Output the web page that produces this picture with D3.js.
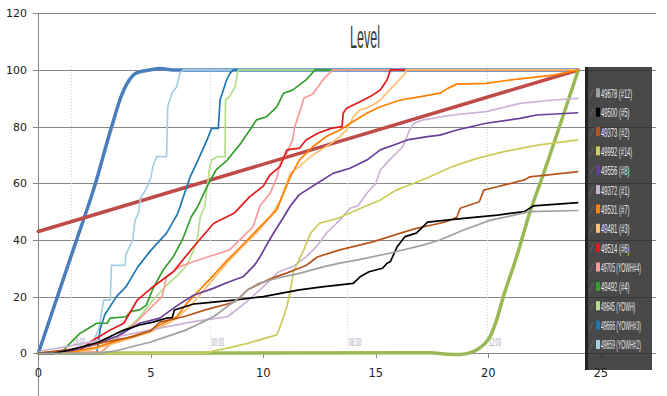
<!DOCTYPE html>
<html><head><meta charset="utf-8">
<script src="https://cdn.jsdelivr.net/npm/d3@7"></script>
<style>body{margin:0;background:#fff}svg{display:block}</style>
</head><body>
<svg id="c" width="667" height="396"></svg>
<script>
// ---------- data ----------
const title = "Level";
const xTicks = [0, 5, 10, 15, 20, 25];
const yTicks = [0, 20, 40, 60, 80, 100, 120];
const timeMarkX = [1.47, 7.63, 13.73, 19.95];
const timeMarkLabels = ["18:00", "00:00", "06:00", "12:00"];

const legendNames = ["49678 (#12)", "49500 (#5)", "49373 (#2)", "49992 (#14)", "49556 (#8)", "49372 (#1)", "49531 (#7)", "49481 (#3)", "49514 (#6)", "49705 (YOWH#4)", "49492 (#4)", "49645 (YOWH)", "49666 (YOWH#3)", "49659 (YOWH#2)"];
const legendColors = ["#a0a0a0", "#000000", "#b5561f", "#c9cc5a", "#6a3d9a", "#cab2d6", "#ff7f00", "#fdbf6f", "#e31a1c", "#fb9a99", "#33a02c", "#b2df8a", "#1f78b4", "#a6cee3"];

const s49678 = [[0,0],[2.7,0],[3.5,1],[4.2,2.4],[5,4],[5.7,5.9],[6.5,8],[7.2,10.6],[7.8,13],[8.4,16.5],[9,20],[9.3,22.4],[9.8,24.7],[10.6,26.5],[11.6,28.2],[12.7,30.6],[13.4,31.8],[14.15,32.9],[15.6,35.3],[17.1,38.2],[17.85,40],[18.9,43.5],[20.1,47],[21,48.5],[21.85,50],[24,50.4]];
const s49500 = [[0,0],[0.67,0],[1.3,1],[2,2.4],[2.7,4],[3.2,5.9],[3.8,8.2],[4.5,10],[5.1,11],[5.7,12.4],[5.95,12.6],[6.05,15.3],[6.9,17.4],[7.2,17.6],[8.7,18.8],[10,20],[11.6,22.4],[12.7,23.5],[14,24.7],[14.3,27],[14.7,28.8],[15.3,30],[15.5,31.8],[15.65,32.4],[15.95,37.6],[16.3,41.2],[16.8,42.4],[17.1,44.7],[17.3,46.3],[18.9,47.6],[20.4,48.8],[21.6,50],[22,52],[24,53.2]];
const s49373 = [[0,0],[0.5,0.5],[1.5,1.5],[2.7,3.5],[4.2,5.9],[5,8],[5.4,11],[6.5,13],[7.5,15.5],[8.7,18],[9,20],[9.3,22.4],[10.2,25.9],[11,28.2],[11.9,31],[12.4,34],[13.4,36.5],[14.9,39.4],[16.1,42.4],[16.8,44.1],[17.85,45.9],[18.15,46.5],[18.6,48],[18.75,51.2],[19.6,53.5],[19.8,57.6],[20.4,58.8],[21.6,61.2],[21.85,62.3],[24,64.1]];
const s49992 = [[0,0],[7.3,0],[8.4,1.8],[9.3,3.5],[10.6,6.5],[10.75,9.4],[11.05,16.5],[11.2,22],[11.35,29],[11.5,31.5],[11.8,36.5],[12.1,42.4],[12.5,45.9],[13.3,47.6],[14.15,50.6],[15.2,54.1],[15.9,57.6],[16.7,60],[17.4,62.3],[18.4,65.9],[19.5,68.8],[20.7,71.2],[22.2,73.5],[24,75.3]];
const s49556 = [[0,0],[1.5,1],[2.5,3],[3.5,6],[4.5,10.6],[5.4,12.4],[6.2,17],[6.9,20.5],[7.8,23],[8.4,25],[9.1,27],[9.6,31],[9.85,34],[10.2,39],[10.5,43],[10.9,48],[11.2,52],[11.6,56],[12.4,60],[13.1,63.5],[13.85,65.3],[14.6,68.2],[15.2,71.8],[15.8,73.5],[16.4,75.3],[17.3,76.5],[17.85,77],[18.6,78.8],[19.9,81.2],[21.4,82.9],[22.15,84.1],[24,84.9]];
const s49372 = [[0,0],[0.2,1],[1,2],[2,3.5],[4.2,7],[5.4,8.9],[6.9,11.2],[8.4,12.9],[9,16.5],[9.85,22.4],[10.7,28.8],[11.3,30.6],[11.9,34],[12.4,38],[12.8,42.4],[13.4,47],[13.85,51.2],[14.2,52],[14.6,56.5],[15,60],[15.2,64.7],[15.6,68.2],[16.2,72.9],[16.5,78.8],[16.7,81.2],[17.1,82.4],[18.4,84.1],[19.9,85.3],[21.4,88.2],[22.9,89.4],[24,90]];
const s49531 = [[0,0],[1.5,0.5],[2.5,2],[3.9,5.3],[5,8.2],[5.4,10],[6.15,12.9],[6.6,17.6],[7.3,23.5],[7.6,25.9],[8.4,32.9],[9,37.6],[9.8,44.2],[10.6,50.6],[10.9,56.5],[11.2,62.3],[11.6,68.2],[12.2,72.9],[12.8,76.5],[13.4,78.8],[14,81.8],[14.6,84.7],[15.2,87],[16.1,89.4],[17,90.6],[17.85,91.8],[18.2,93.5],[18.6,95],[19.9,95.3],[21,96.5],[22.9,98.2],[24,100]];
const s49481 = [[0,0],[1.5,0.3],[2.5,1.5],[4,5],[5,7.5],[6.1,12],[6.9,18],[7.6,24.5],[8.4,32],[9,37],[9.7,42.5],[10.3,48],[10.75,54],[11.2,63.5],[11.6,66],[12.2,70],[13,74],[13.4,76.5],[13.7,78.8],[14,83.5],[14.3,85.9],[14.75,87],[15.2,89.4],[15.6,92.9],[15.9,95.3],[16.3,98.8],[16.35,100],[24,100]];
const s49514 = [[0,0],[1.8,0.5],[2.3,4],[3.2,8.2],[3.8,10.6],[4.4,18.8],[5.1,23.5],[6,28.8],[6.9,37.6],[7.8,45.9],[8.7,49.4],[9.4,55.3],[10,59],[10.3,63],[10.75,66],[11.05,71.8],[11.6,72.4],[11.9,75.3],[12.4,77.6],[13,79.4],[13.5,80],[13.55,84.7],[13.7,86.5],[14.3,88.8],[14.75,90.6],[15.2,92.9],[15.5,96.5],[15.65,100],[24,100]];
const s49705 = [[0,0],[2.8,0.5],[3.25,3.5],[4.3,10.6],[4.9,15.3],[5.5,20],[5.7,27],[6.3,30.6],[6.9,32.4],[7.8,34.7],[8.5,36.5],[9.1,41.2],[9.55,44.7],[9.85,52],[10.3,56.5],[10.6,62],[10.75,67],[11.05,70.6],[11.3,75.3],[11.4,80],[11.65,86],[11.8,90],[12.2,91.5],[12.7,97],[13.1,100],[24,100]];
const s49492 = [[0,0],[1.1,0.5],[1.25,2.3],[1.85,7],[2.6,10.6],[3.05,10.6],[3.2,12.4],[3.9,12.9],[4.1,14.7],[4.5,15.3],[4.8,17],[5.1,22.9],[5.55,29.4],[6,34.1],[6.4,40],[6.8,48.2],[7.1,52],[7.5,58.8],[7.9,64.7],[8.4,68.2],[9,74.1],[9.4,78.8],[9.7,82.4],[10.15,83.5],[10.6,87],[10.9,91.8],[11.3,92.9],[11.9,96.5],[12.3,100],[24,100]];
const s49645 = [[0,0],[2.8,0],[3.4,5.3],[4.4,11.8],[5.1,18.8],[5.7,24],[6.2,27.6],[6.6,31],[7.04,38.8],[7.2,48.2],[7.4,52],[7.6,64.7],[7.7,68.2],[7.95,69.4],[8.3,69.4],[8.32,89.4],[8.5,90.6],[8.75,94.1],[8.85,98.8],[8.9,100],[24,100]];
const s49666 = [[0,0],[2.6,0],[2.75,8.5],[2.95,13.5],[3.47,20],[3.9,23.5],[4.43,30.6],[5.02,36.5],[5.7,42.4],[6.2,49.4],[6.45,55.3],[6.75,62.3],[7.1,68.2],[7.5,75.3],[7.7,79.4],[8,79.4],[8.08,89.4],[8.37,96.5],[8.52,98.8],[8.67,100],[24,100]];
const s49659 = [[0,0],[1.5,0.5],[2.2,3],[2.5,5],[2.7,9],[2.9,18.8],[3.2,18.8],[3.25,31],[3.85,31],[3.9,35],[4.2,40],[4.3,47],[4.45,49.5],[4.55,55],[4.8,58],[5,62],[5.1,66],[5.25,69.4],[5.7,69.4],[5.75,87],[5.95,92],[6.15,94],[6.3,99],[6.45,100],[24,100]];

// thick unlabeled series
const thickBlue = [[0,0],[1.7,40],[2.45,57.6],[3.26,80],[3.7,91],[3.93,95],[4.37,99],[4.96,100],[5.4,100.5],[6,100],[24,100]];
const thickRed = [[0,43],[24,100]];
const thickGreen = [[0,0],[17.4,0.2],[18.2,-0.3],[18.75,-0.4],[19.33,0.6],[19.78,2.9],[20.08,5.9],[20.37,11.8],[20.67,20],[21.26,34.1],[21.85,49.8],[22.37,61.5],[24,100]];

const seriesData = [s49678, s49500, s49373, s49992, s49556, s49372, s49531, s49481, s49514, s49705, s49492, s49645, s49666, s49659];

// ---------- drawing ----------
const svg = d3.select("#c");
const x = d3.scaleLinear().domain([0, 25]).range([38.3, 600.8]);
const y = d3.scaleLinear().domain([0, 120]).range([353.3, 13.3]);
const line = d3.line().x(d => x(d[0])).y(d => y(d[1]));
const smooth = d3.line().x(d => x(d[0])).y(d => y(d[1])).curve(d3.curveMonotoneX);

// squeeze a text horizontally to a target width using a real transform
function squeeze(sel, x0, y0, target) {
  sel.each(function(d, i) {
    const t = d3.select(this);
    const w = this.getComputedTextLength() || 1;
    const tw = typeof target === "function" ? target(d, i) : target;
    const yy = typeof y0 === "function" ? y0(d, i) : y0;
    const xx = typeof x0 === "function" ? x0(d, i) : x0;
    t.attr("x", 0).attr("y", 0)
     .attr("transform", `translate(${xx},${yy}) scale(${tw / w},1)`);
  });
}

// gridlines
svg.append("g").selectAll("line").data(yTicks).join("line")
  .attr("x1", 33).attr("x2", 656)
  .attr("y1", d => Math.round(y(d)) + 0.5).attr("y2", d => Math.round(y(d)) + 0.5)
  .attr("stroke", "#878787").attr("stroke-width", 1);

// y axis line
svg.append("line").attr("x1", 38.5).attr("x2", 38.5).attr("y1", 13).attr("y2", 396)
  .attr("stroke", "#878787");

// x tick marks
svg.append("g").selectAll("line").data(xTicks).join("line")
  .attr("x1", d => Math.round(x(d)) + 0.5).attr("x2", d => Math.round(x(d)) + 0.5)
  .attr("y1", 353).attr("y2", 358).attr("stroke", "#878787");

// y tick labels
svg.append("g").selectAll("text").data(yTicks).join("text")
  .attr("x", 27).attr("y", d => y(d) + 4)
  .attr("text-anchor", "end")
  .attr("font-family", "DejaVu Sans, Verdana, sans-serif").attr("font-size", 11)
  .attr("fill", "#222").text(d => d);

// x tick labels
svg.append("g").selectAll("text").data(xTicks).join("text")
  .attr("x", d => x(d)).attr("y", 377)
  .attr("text-anchor", "middle")
  .attr("font-family", "DejaVu Sans, Verdana, sans-serif").attr("font-size", 11.5)
  .attr("fill", "#222").text(d => d);

// vertical dotted time marks
svg.append("g").selectAll("line").data(timeMarkX).join("line")
  .attr("x1", d => Math.round(x(d)) + 0.5).attr("x2", d => Math.round(x(d)) + 0.5)
  .attr("y1", 66).attr("y2", 353)
  .attr("stroke", "#d4d4d4").attr("stroke-dasharray", "1,2");
svg.append("g").selectAll("text").data(timeMarkX).join("text")
  .attr("font-family", "Liberation Sans Narrow, Arial Narrow, sans-serif").attr("font-size", 11)
  .attr("fill", "#a4a6b8")
  .text((d, i) => timeMarkLabels[i])
  .call(squeeze, d => x(d) + 1.5, 346, 12.5);

// title
svg.append("text")
  .attr("font-family", "Liberation Sans Narrow, Arial Narrow, sans-serif").attr("font-size", 31)
  .attr("fill", "#3a3a3a")
  .text(title)
  .call(squeeze, 350, 47.5, 30);

// thick lines (bottom)
const thick = [[thickBlue, "#4a7ebb", smooth], [thickRed, "#be4b48", line], [thickGreen, "#98b954", smooth]];
svg.append("g").selectAll("path").data(thick).join("path")
  .attr("d", d => d[2](d[0])).attr("fill", "none")
  .attr("stroke", d => d[1]).attr("stroke-width", 3.5)
  .attr("stroke-linejoin", "round").attr("stroke-linecap", "round");

// thin series, drawn in reverse legend order
const order = d3.range(seriesData.length).reverse();
svg.append("g").selectAll("path").data(order).join("path")
  .attr("d", i => line(seriesData[i])).attr("fill", "none")
  .attr("stroke", i => legendColors[i]).attr("stroke-width", 1.7)
  .attr("stroke-linejoin", "round");

// legend
const lg = svg.append("g");
lg.append("rect").attr("x", 585).attr("y", 67).attr("width", 67).attr("height", 303)
  .attr("fill", "#2a2a2a").attr("opacity", 0.86);
lg.append("rect").attr("x", 585).attr("y", 67).attr("width", 3).attr("height", 303)
  .attr("fill", "#222");
const rowY = i => 93.3 + i * 19.36;
lg.selectAll("line.sl").data(legendNames).join("line").attr("class", "sl")
  .attr("x1", 589.5).attr("x2", 593.5)
  .attr("y1", (d, i) => rowY(i) + 5).attr("y2", (d, i) => rowY(i) - 4)
  .attr("stroke", "#6a6a6a").attr("stroke-width", 0.8);
lg.selectAll("rect.sw").data(legendNames).join("rect").attr("class", "sw")
  .attr("x", 596).attr("y", (d, i) => rowY(i) - 5).attr("width", 4).attr("height", 9)
  .attr("fill", (d, i) => legendColors[i]);
lg.selectAll("text").data(legendNames).join("text")
  .attr("font-family", "Liberation Sans Narrow, Arial Narrow, sans-serif").attr("font-size", 12)
  .attr("fill", "#e8e8e8")
  .text(d => d)
  .call(squeeze, 601, (d, i) => rowY(i) + 4.5, d => d.length * 2.85);
</script>
</body></html>
